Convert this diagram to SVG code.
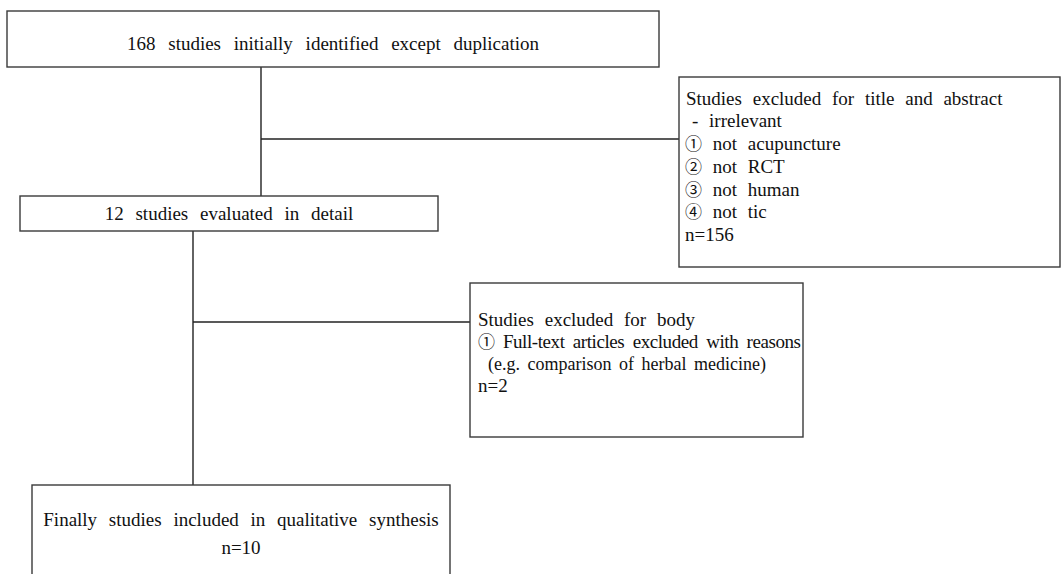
<svg xmlns="http://www.w3.org/2000/svg" width="1061" height="574" viewBox="0 0 1061 574">
<style>
.box{fill:#fff;stroke:#3a3a3a;stroke-width:1.4}
.ln{stroke:#222;stroke-width:1.4;fill:none}
text{font-family:"Liberation Serif","Noto Sans CJK KR",serif;font-size:19px;fill:#111;word-spacing:6px}
.c{text-anchor:middle}
.n{font-size:17px}
</style>
<rect width="1061" height="574" fill="#fff"/>
<g id="connectors">
<line class="ln" x1="261" y1="67" x2="261" y2="196"/>
<line class="ln" x1="261" y1="139" x2="679" y2="139"/>
<line class="ln" x1="193" y1="231" x2="193" y2="485"/>
<line class="ln" x1="193" y1="322" x2="470" y2="322"/>
</g>
<g id="n1">
<rect class="box" x="7" y="11" width="652" height="56"/>
<text class="c" x="333" y="50" style="word-spacing:8px">168 studies initially identified except duplication</text>
</g>
<g id="n2">
<rect class="box" x="20" y="196" width="418" height="35"/>
<text class="c" x="229" y="220" style="word-spacing:7px">12 studies evaluated in detail</text>
</g>
<g id="n3">
<rect class="box" x="679" y="77" width="381" height="190"/>
<text x="686" y="105">Studies excluded for title and abstract</text>
<text x="692" y="127">- irrelevant</text>
<text x="685" y="150"><tspan class="n">①</tspan> not acupuncture</text>
<text x="685" y="173"><tspan class="n">②</tspan> not RCT</text>
<text x="685" y="196"><tspan class="n">③</tspan> not human</text>
<text x="685" y="218"><tspan class="n">④</tspan> not tic</text>
<text x="685" y="241">n=156</text>
</g>
<g id="n4">
<rect class="box" x="470" y="283" width="333" height="154"/>
<text x="478" y="326">Studies excluded for body</text>
<text x="478" y="348" style="word-spacing:4px" textLength="323" lengthAdjust="spacing"><tspan class="n">①</tspan> Full-text articles excluded with reasons</text>
<text x="488" y="370" style="font-size:18px;word-spacing:3px">(e.g. comparison of herbal medicine)</text>
<text x="478" y="392">n=2</text>
</g>
<g id="n5">
<rect class="box" x="32" y="485" width="418" height="100"/>
<text class="c" x="241" y="526" style="word-spacing:7px">Finally studies included in qualitative synthesis</text>
<text class="c" x="241" y="554">n=10</text>
</g>
</svg>
